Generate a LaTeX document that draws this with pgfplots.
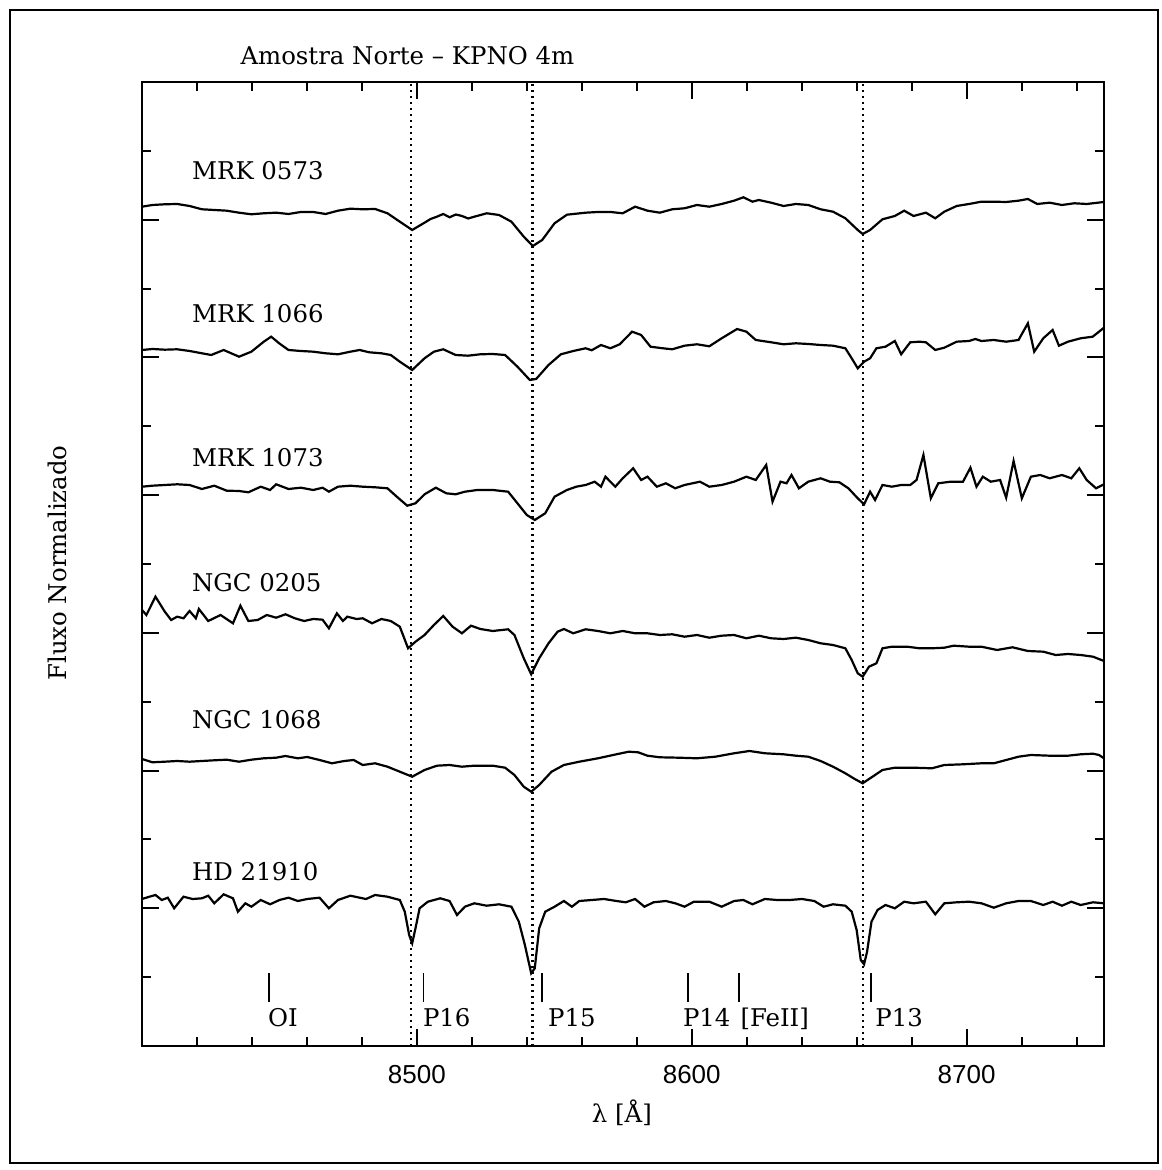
\documentclass[border=0pt]{standalone}
\usepackage{fontspec}
\setmainfont{DejaVu Serif}
\newfontfamily\tickfont{Liberation Sans}
\usepackage{pgfplots}
\pgfplotsset{compat=1.18}
\newcommand{\nm}{\fontsize{12.2}{14}\selectfont}
\begin{document}
\begin{tikzpicture}
\useasboundingbox (-71pt,-62pt) rectangle (509.5pt,523pt);
\draw[line width=1pt] (-66pt,-58.5pt) rectangle (508pt,518pt);
\begin{axis}[
 at={(0pt,0pt)}, anchor=south west,
 scale only axis, width=481pt, height=482pt,
 xmin=8400, xmax=8750, ymin=0, ymax=964,
 clip=false,
 axis line style={line width=1.4pt},
 xtick={8500,8600,8700}, xticklabels={8500,8600,8700},
 minor xtick={8420,8440,8460,8480,8520,8540,8560,8580,8620,8640,8660,8680,8720,8740},
 ytick={0,137.71,275.43,413.14,550.86,688.57,826.29,964},
 minor ytick={68.86,206.57,344.29,482,619.71,757.43,895.14},
 yticklabels={},
 tick pos=both, xticklabel pos=lower,
 major tick length=8.5pt, minor tick length=4.3pt,
 every tick/.style={black, line width=1pt},
 xticklabel style={font=\tickfont\fontsize{13}{15}\selectfont, yshift=-6pt},
]
% Ca II dotted lines
\addplot[black, line width=1.1pt, dash pattern=on 1.2pt off 1.8pt] coordinates {(8498.0,0) (8498.0,964)};
\addplot[black, line width=1.1pt, dash pattern=on 1.2pt off 1.8pt] coordinates {(8542.1,0) (8542.1,964)};
\addplot[black, line width=1.1pt, dash pattern=on 1.2pt off 1.8pt] coordinates {(8662.2,0) (8662.2,964)};

% MRK 0573
\addplot[black, line width=1.1pt] table {
8400.0 839.3
8403.8 841.0
8408.3 841.7
8412.8 842.0
8417.3 840.0
8421.8 836.7
8426.3 836.0
8430.8 835.3
8435.3 833.3
8439.8 831.7
8444.3 832.7
8448.8 833.3
8453.3 832.0
8457.8 834.0
8462.3 834.0
8466.8 832.0
8471.3 835.3
8475.8 837.3
8480.3 836.7
8484.8 837.0
8489.3 832.7
8493.8 824.3
8498.3 816.0
8502.8 823.3
8505.0 827.0
8507.3 829.3
8509.6 832.0
8511.9 828.7
8514.2 831.5
8516.4 830.0
8518.7 827.5
8520.9 829.3
8523.2 831.0
8525.4 832.7
8529.9 831.0
8534.4 824.3
8538.9 809.3
8542.2 800.0
8545.6 806.0
8550.1 822.7
8554.6 831.3
8561.4 833.3
8565.9 834.0
8570.4 834.0
8574.9 832.7
8579.4 839.3
8583.9 835.3
8588.4 833.3
8592.9 836.7
8597.4 837.7
8601.9 841.0
8606.4 839.3
8610.9 842.0
8615.4 845.3
8618.8 848.7
8622.1 844.3
8624.4 846.0
8628.9 843.3
8633.4 840.0
8637.9 842.0
8642.4 841.0
8646.9 836.7
8651.4 834.3
8655.9 827.7
8660.4 816.0
8662.2 812.0
8664.9 816.0
8669.4 826.7
8673.9 830.0
8677.3 835.3
8680.7 830.0
8685.2 833.3
8688.6 827.7
8691.9 834.3
8696.4 840.0
8700.9 842.0
8705.4 844.3
8709.9 844.3
8714.4 844.0
8718.9 845.3
8722.3 847.0
8725.7 842.0
8730.2 843.3
8734.7 841.0
8739.2 842.7
8743.7 842.0
8750.0 844.0
};

% MRK 1066
\addplot[black, line width=1.1pt] table {
8400.0 696.0
8403.8 697.0
8408.3 696.3
8412.8 696.7
8417.3 695.0
8421.8 692.7
8425.2 691.0
8429.7 696.0
8435.3 689.3
8439.8 694.3
8444.3 704.3
8447.0 709.3
8449.9 702.7
8453.3 696.0
8457.8 695.0
8462.3 694.3
8466.8 692.7
8471.3 691.7
8475.8 694.3
8479.2 696.0
8482.6 693.7
8487.1 692.7
8490.5 691.0
8493.8 684.3
8498.3 676.0
8502.8 687.7
8506.2 694.3
8509.6 696.7
8514.1 691.0
8518.6 690.3
8523.1 691.7
8527.6 692.0
8532.1 691.0
8536.6 679.3
8541.1 666.0
8543.4 667.0
8547.9 681.0
8552.4 691.7
8556.9 695.0
8561.4 697.7
8563.6 695.7
8567.0 701.0
8570.4 697.7
8573.8 701.7
8578.3 714.3
8581.6 711.0
8585.0 699.3
8589.5 697.7
8592.9 696.7
8597.4 700.3
8601.9 701.7
8606.4 699.7
8610.9 707.7
8616.5 717.0
8619.9 714.3
8623.3 706.0
8628.9 703.7
8633.4 701.7
8637.9 702.7
8642.4 702.0
8646.9 701.0
8651.4 700.3
8655.9 697.7
8658.2 687.7
8660.4 677.7
8662.7 684.3
8664.9 687.7
8667.2 697.7
8670.5 699.3
8673.9 705.0
8676.2 691.7
8679.5 703.7
8682.9 704.3
8685.2 703.7
8688.6 696.0
8691.9 698.3
8696.4 704.3
8700.9 705.0
8703.2 707.0
8705.4 705.0
8709.9 706.0
8714.4 704.3
8718.9 706.0
8722.3 722.7
8724.6 694.3
8727.9 707.7
8731.3 716.0
8733.6 700.3
8736.9 704.3
8741.5 707.7
8745.9 709.3
8750.0 718.3
};

% MRK 1073
\addplot[black, line width=1.1pt] table {
8400.0 559.3
8403.8 560.3
8408.3 561.0
8412.8 561.7
8417.3 561.0
8421.8 557.0
8426.3 560.3
8430.8 555.3
8435.3 555.0
8438.7 553.7
8443.2 559.3
8446.6 556.0
8448.8 561.7
8453.3 557.0
8457.8 558.3
8462.3 556.0
8465.7 558.3
8468.0 554.3
8471.3 559.3
8475.8 560.3
8480.3 559.3
8484.8 558.7
8489.3 557.7
8492.7 549.3
8496.5 540.3
8499.5 542.7
8502.8 551.7
8506.9 558.3
8510.7 552.7
8514.1 551.7
8517.5 554.3
8522.0 556.0
8527.6 556.0
8533.2 554.3
8536.6 542.7
8540.0 531.0
8542.9 526.0
8546.7 532.7
8550.1 549.3
8554.6 556.0
8558.0 559.3
8561.4 561.0
8564.7 564.3
8567.0 559.3
8568.6 569.3
8572.2 559.3
8574.9 567.7
8578.7 577.7
8581.6 566.0
8583.9 569.3
8587.3 559.3
8590.6 562.7
8594.0 557.7
8597.4 561.0
8603.0 564.3
8606.4 559.3
8610.9 561.0
8615.4 564.3
8619.9 569.3
8623.3 566.0
8627.1 581.0
8629.4 544.3
8632.3 564.3
8634.5 562.7
8636.3 571.0
8639.0 557.7
8642.4 564.3
8646.9 567.7
8650.3 564.3
8653.7 563.7
8657.0 557.7
8660.4 547.7
8662.7 541.7
8664.9 554.3
8666.7 546.0
8669.4 561.0
8672.8 559.3
8676.2 561.0
8679.5 561.0
8681.8 566.0
8684.3 591.0
8687.0 547.7
8689.7 562.7
8694.2 564.3
8698.7 564.3
8701.4 578.3
8703.6 559.3
8705.9 569.3
8708.8 564.3
8712.2 566.0
8714.4 548.3
8717.1 585.0
8720.1 547.7
8723.4 569.3
8726.8 571.0
8730.2 567.7
8734.7 571.0
8738.1 567.7
8741.0 577.7
8743.7 566.0
8747.1 557.7
8750.0 561.7
};

% NGC 0205
\addplot[black, line width=1.1pt] table {
8400.0 436.0
8401.6 431.0
8404.9 449.3
8408.3 434.3
8410.6 426.0
8412.8 429.3
8415.1 427.7
8417.3 435.0
8419.6 427.7
8420.7 437.0
8424.1 425.0
8428.6 431.0
8433.1 422.7
8435.8 440.3
8438.7 425.0
8442.1 426.0
8445.4 431.0
8448.8 428.3
8452.2 431.7
8455.6 427.7
8459.0 425.0
8462.3 427.0
8465.7 426.3
8468.0 417.7
8470.9 432.7
8473.1 425.0
8474.7 429.3
8478.1 427.0
8480.3 427.7
8483.7 422.7
8487.1 427.0
8490.5 425.0
8493.8 419.3
8496.8 397.7
8499.5 404.3
8502.8 411.0
8506.2 421.0
8509.6 430.0
8513.0 419.3
8516.4 412.7
8519.7 420.3
8523.1 417.0
8527.6 415.0
8533.2 416.7
8535.5 411.0
8538.9 387.7
8541.6 371.7
8544.5 387.7
8547.9 402.7
8551.2 414.3
8553.5 417.0
8556.9 412.7
8561.4 416.7
8565.9 415.0
8570.4 412.7
8574.9 415.0
8579.4 412.7
8583.9 412.7
8588.4 411.0
8592.9 411.7
8597.4 409.3
8601.9 411.0
8606.4 408.3
8610.9 410.3
8615.4 411.0
8619.9 407.7
8624.4 410.3
8628.9 407.7
8633.4 407.0
8637.9 408.3
8642.4 406.0
8646.9 402.7
8651.4 401.0
8655.9 397.7
8658.2 386.0
8660.4 372.7
8662.2 369.3
8664.5 379.3
8667.2 382.7
8669.4 397.7
8672.8 399.3
8678.4 399.3
8682.9 397.7
8687.4 397.7
8691.9 398.3
8695.3 400.3
8700.9 399.3
8705.4 399.3
8711.1 396.0
8716.7 398.7
8722.3 395.0
8727.9 394.3
8732.4 391.0
8736.9 392.0
8741.5 391.0
8746.0 389.3
8750.0 385.0
};

% NGC 1068
\addplot[black, line width=1.1pt] table {
8400.0 287.0
8403.8 283.7
8408.3 284.3
8412.8 285.0
8417.3 284.3
8421.8 285.0
8426.3 285.7
8430.8 286.3
8435.3 284.3
8439.8 286.3
8444.3 287.7
8448.8 288.3
8452.2 290.0
8456.7 287.7
8460.1 289.0
8464.6 286.0
8469.1 282.7
8473.6 285.0
8477.0 286.0
8480.3 281.0
8484.8 282.7
8489.3 279.3
8493.8 274.3
8498.3 269.3
8502.8 276.0
8507.3 280.3
8511.9 281.0
8516.4 279.3
8520.9 280.3
8527.6 280.3
8532.1 278.3
8535.5 271.0
8538.9 259.3
8541.6 254.3
8544.5 261.0
8549.0 274.3
8553.5 281.0
8559.1 284.3
8565.9 287.7
8572.6 291.7
8577.1 294.3
8580.5 293.7
8583.9 290.3
8588.4 288.7
8595.2 288.3
8601.9 287.7
8608.6 289.3
8615.4 292.7
8621.0 295.0
8626.7 292.7
8633.4 291.7
8637.9 290.3
8642.4 289.3
8646.9 285.0
8651.4 279.3
8655.9 272.7
8659.3 267.0
8662.2 262.7
8664.9 267.7
8669.4 276.0
8673.9 278.3
8680.7 278.3
8687.4 277.7
8691.9 281.0
8698.7 281.7
8705.4 282.7
8709.9 282.7
8714.4 286.0
8718.9 289.3
8723.4 291.0
8730.2 290.3
8736.9 290.3
8741.5 291.7
8746.0 292.3
8748.2 291.0
8750.0 287.7
};

% HD 21910
\addplot[black, line width=1.1pt] table {
8400.0 147.0
8402.7 149.3
8404.9 151.0
8407.2 146.0
8409.4 148.3
8411.7 137.7
8415.1 149.3
8418.4 147.0
8421.8 147.7
8424.1 150.3
8426.3 142.7
8429.7 151.7
8433.1 147.7
8434.9 134.3
8437.6 142.7
8439.8 139.3
8443.2 146.0
8446.6 141.7
8450.0 146.0
8453.3 148.3
8456.7 145.0
8460.1 147.0
8464.6 148.3
8468.0 137.7
8471.3 146.0
8475.8 150.3
8479.2 148.3
8481.5 147.0
8484.8 151.0
8489.3 149.3
8493.8 146.0
8495.6 134.3
8497.2 111.0
8498.3 102.7
8499.5 117.7
8501.0 137.7
8504.0 144.3
8508.5 147.7
8511.9 145.0
8514.6 131.0
8517.5 139.3
8520.9 142.7
8525.4 140.3
8529.9 141.7
8534.4 139.3
8537.1 124.3
8539.3 101.0
8541.6 72.7
8542.9 77.7
8544.5 117.7
8546.7 134.3
8550.1 139.3
8553.5 145.0
8556.4 139.3
8559.1 145.0
8563.6 146.0
8568.1 147.0
8572.6 145.0
8576.0 143.7
8579.4 147.0
8582.8 139.3
8586.1 143.7
8590.6 145.0
8594.0 142.7
8597.4 139.3
8600.8 144.3
8606.4 144.3
8610.9 139.3
8615.4 145.0
8618.8 146.0
8622.1 141.7
8626.6 147.0
8631.1 146.0
8635.6 146.0
8640.1 147.0
8644.6 145.0
8648.0 139.3
8651.4 141.7
8655.9 140.3
8658.2 134.3
8660.0 116.0
8661.5 86.0
8662.7 81.7
8663.8 94.3
8665.4 124.3
8667.6 136.0
8670.5 141.0
8673.9 137.7
8677.3 144.3
8680.7 142.7
8685.2 144.3
8688.6 131.7
8691.9 142.7
8696.4 143.7
8700.9 144.3
8705.4 142.7
8709.9 138.3
8714.4 142.7
8718.9 145.0
8723.4 145.0
8727.9 141.0
8731.3 144.3
8734.7 140.3
8738.1 144.3
8741.5 141.0
8746.0 143.7
8750.0 142.7
};

% line identification marks
\addplot[black, line width=0.9pt] coordinates {(8446.3,44) (8446.3,73)};
\addplot[black, line width=0.9pt] coordinates {(8502.4,44) (8502.4,73)};
\addplot[black, line width=0.9pt] coordinates {(8545.4,44) (8545.4,73)};
\addplot[black, line width=0.9pt] coordinates {(8598.5,44) (8598.5,73)};
\addplot[black, line width=0.9pt] coordinates {(8617.2,44) (8617.2,73)};
\addplot[black, line width=0.9pt] coordinates {(8665.1,44) (8665.1,73)};

\node[anchor=base west, inner sep=0, font=\nm] at (axis cs:8445.7,19.3) {OI};
\node[anchor=base west, inner sep=0, font=\nm] at (axis cs:8502.1,19.3) {P16};
\node[anchor=base west, inner sep=0, font=\nm] at (axis cs:8547.6,19.3) {P15};
\node[anchor=base west, inner sep=0, font=\nm] at (axis cs:8596.7,19.3) {P14};
\node[anchor=base west, inner sep=0, font=\nm] at (axis cs:8617.6,19.3) {[FeII]};
\node[anchor=base west, inner sep=0, font=\nm] at (axis cs:8666.7,19.3) {P13};

\node[anchor=base west, inner sep=0, font=\nm] at (axis cs:8418.1,866.7) {MRK 0573};
\node[anchor=base west, inner sep=0, font=\nm] at (axis cs:8418.1,723.7) {MRK 1066};
\node[anchor=base west, inner sep=0, font=\nm] at (axis cs:8418.1,579.3) {MRK 1073};
\node[anchor=base west, inner sep=0, font=\nm] at (axis cs:8418.1,454.3) {NGC 0205};
\node[anchor=base west, inner sep=0, font=\nm] at (axis cs:8418.1,317.0) {NGC 1068};
\node[anchor=base west, inner sep=0, font=\nm] at (axis cs:8418.1,165.0) {HD 21910};

\node[anchor=base west, inner sep=0, font=\nm] at (axis cs:8435.7,981.7) {Amostra Norte -- KPNO 4m};
\node[anchor=base, inner sep=0, font=\nm] at (axis cs:8574.6,-76) {λ [Å]};
\node[rotate=90, inner sep=0, font=\nm] at (axis cs:8369.4,483) {Fluxo Normalizado};
\end{axis}
\end{tikzpicture}
\end{document}
